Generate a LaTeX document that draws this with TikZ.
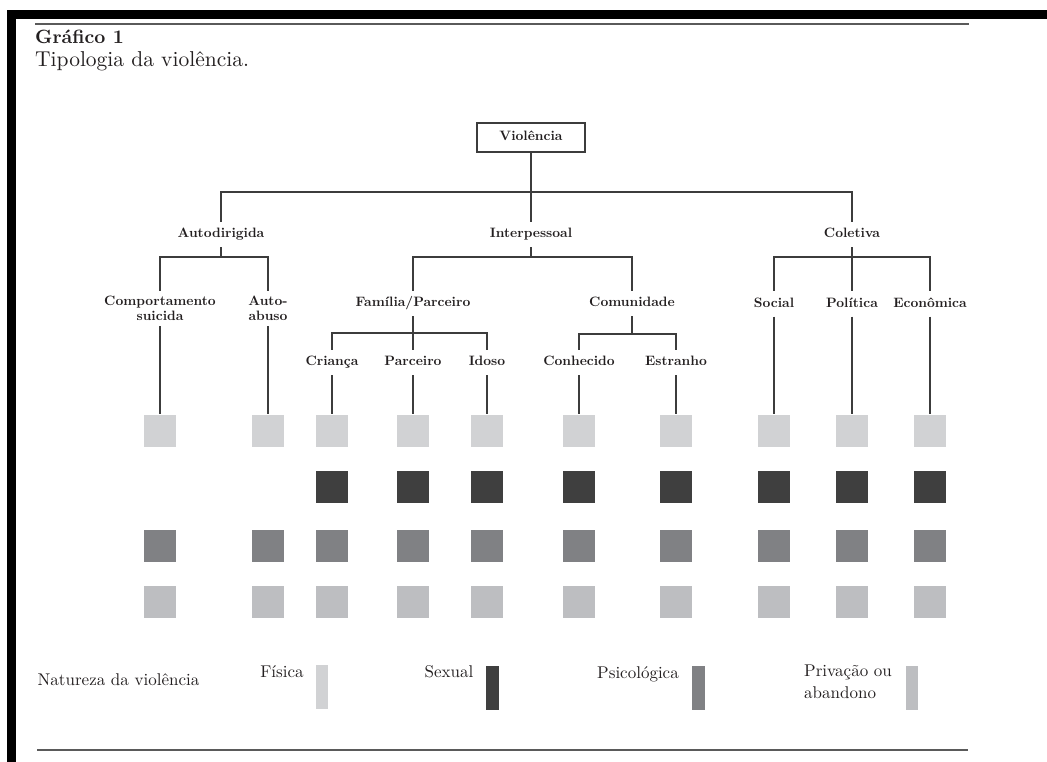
\documentclass[tikz,border=0pt]{standalone}
\usepackage{fontspec}
\setmainfont{lmroman10-regular.otf}[BoldFont=lmroman10-bold.otf]
\usepackage{tikz}
\definecolor{fisica}{HTML}{D1D2D4}
\definecolor{sexual}{HTML}{3F3F3F}
\definecolor{psico}{HTML}{808184}
\definecolor{privacao}{HTML}{BDBEC1}
\definecolor{linha}{HTML}{3C3C3C}
\definecolor{regua}{HTML}{5A5A5A}
\definecolor{texto}{HTML}{231F20}

\begin{document}
\begin{tikzpicture}[x=1pt,y=-1pt,
    tline/.style={linha, line width=1.6pt},
    tipo/.style={font=\fontsize{13.6}{15}\selectfont\bfseries, text=texto, inner sep=0pt,
      minimum height=25pt, text height=9.5pt, text depth=2.6pt},
    tipoduplo/.style={font=\fontsize{13.6}{14.5}\selectfont\bfseries, text=texto, inner sep=0pt,
      minimum height=35pt, align=center},
    quad/.style={inner sep=0pt, minimum size=32pt},
    legbar/.style={inner sep=0pt, minimum width=12.5pt, minimum height=44pt},
    legtxt/.style={font=\fontsize{17}{22}\selectfont, text=texto, inner sep=0pt}]
  \useasboundingbox (0,0) rectangle (1047,762);
  % page frame and rules
  \fill[black] (7,10) rectangle (1047,19);
  \fill[black] (7,10) rectangle (16,762);
  \draw[regua, line width=2pt] (35,24) -- (969,24);
  \draw[regua, line width=2pt] (37,750) -- (968,750);
  \node[anchor=base west, inner sep=0pt, text=texto, font=\fontsize{19.2}{20}\selectfont\bfseries] (titulo) at (35,44) {Gráfico 1};
  \node[anchor=base west, inner sep=0pt, text=texto, font=\fontsize{21.5}{22}\selectfont] (subtitulo) at (35,67) {Tipologia da violência.};

  % tree
  \node[tipo, draw=linha, line width=1.6pt, minimum width=108pt, minimum height=29pt] (viol) at (531,137.5) {Violência};
  \node[tipo] (auto) at (221,234.5) {Autodirigida};
  \node[tipo] (inter) at (531,234.5) {Interpessoal};
  \node[tipo] (colet) at (852,234.5) {Coletiva};
  \node[tipoduplo] (comp) at (160,308.5) {Comportamento\\suicida};
  \node[tipoduplo] (abuso) at (268,308.5) {Auto-\\abuso};
  \node[tipo] (fam) at (413,303.5) {Família/Parceiro};
  \node[tipo] (comu) at (632,303.5) {Comunidade};
  \node[tipo] (cri) at (332,362.5) {Criança};
  \node[tipo] (parc) at (413,362.5) {Parceiro};
  \node[tipo] (idoso) at (487,362.5) {Idoso};
  \node[tipo] (conh) at (579,362.5) {Conhecido};
  \node[tipo] (estr) at (676,362.5) {Estranho};
  \node[tipo] (social) at (774,304) {Social};
  \node[tipo] (polit) at (852,304) {Política};
  \node[tipo] (econ) at (930,304) {Econômica};

  \draw[tline] (viol.south) -- ++(0,39) -| (auto.north);
  \draw[tline] (viol.south) -- ++(0,39) -| (colet.north);
  \draw[tline] (viol.south) -- (inter.north);
  \draw[tline] (auto.south) -- ++(0,10) -| (comp.north);
  \draw[tline] (auto.south) -- ++(0,10) -| (abuso.north);
  \draw[tline] (inter.south) -- ++(0,10) -| (fam.north);
  \draw[tline] (inter.south) -- ++(0,10) -| (comu.north);
  \draw[tline] (colet.south) -- ++(0,10) -| (social.north);
  \draw[tline] (colet.south) -- ++(0,10) -| (econ.north);
  \draw[tline] (colet.south) -- (polit.north);
  \draw[tline] (fam.south) -- ++(0,17) -| (cri.north);
  \draw[tline] (fam.south) -- ++(0,17) -| (idoso.north);
  \draw[tline] (fam.south) -- (parc.north);
  \draw[tline] (comu.south) -- ++(0,18) -| (conh.north);
  \draw[tline] (comu.south) -- ++(0,18) -| (estr.north);

  % nature of violence, one column per type
  \node[quad, fill=fisica] (comp-f) at (160,430.5) {};
  \node[quad, fill=psico] (comp-p) at (160,545.5) {};
  \node[quad, fill=privacao] (comp-a) at (160,601.5) {};
  \node[quad, fill=fisica] (abuso-f) at (268,430.5) {};
  \node[quad, fill=psico] (abuso-p) at (268,545.5) {};
  \node[quad, fill=privacao] (abuso-a) at (268,601.5) {};
  \node[quad, fill=fisica] (cri-f) at (332,430.5) {};
  \node[quad, fill=sexual] (cri-s) at (332,486.5) {};
  \node[quad, fill=psico] (cri-p) at (332,545.5) {};
  \node[quad, fill=privacao] (cri-a) at (332,601.5) {};
  \node[quad, fill=fisica] (parc-f) at (413,430.5) {};
  \node[quad, fill=sexual] (parc-s) at (413,486.5) {};
  \node[quad, fill=psico] (parc-p) at (413,545.5) {};
  \node[quad, fill=privacao] (parc-a) at (413,601.5) {};
  \node[quad, fill=fisica] (idoso-f) at (487,430.5) {};
  \node[quad, fill=sexual] (idoso-s) at (487,486.5) {};
  \node[quad, fill=psico] (idoso-p) at (487,545.5) {};
  \node[quad, fill=privacao] (idoso-a) at (487,601.5) {};
  \node[quad, fill=fisica] (conh-f) at (579,430.5) {};
  \node[quad, fill=sexual] (conh-s) at (579,486.5) {};
  \node[quad, fill=psico] (conh-p) at (579,545.5) {};
  \node[quad, fill=privacao] (conh-a) at (579,601.5) {};
  \node[quad, fill=fisica] (estr-f) at (676,430.5) {};
  \node[quad, fill=sexual] (estr-s) at (676,486.5) {};
  \node[quad, fill=psico] (estr-p) at (676,545.5) {};
  \node[quad, fill=privacao] (estr-a) at (676,601.5) {};
  \node[quad, fill=fisica] (social-f) at (774,430.5) {};
  \node[quad, fill=sexual] (social-s) at (774,486.5) {};
  \node[quad, fill=psico] (social-p) at (774,545.5) {};
  \node[quad, fill=privacao] (social-a) at (774,601.5) {};
  \node[quad, fill=fisica] (polit-f) at (852,430.5) {};
  \node[quad, fill=sexual] (polit-s) at (852,486.5) {};
  \node[quad, fill=psico] (polit-p) at (852,545.5) {};
  \node[quad, fill=privacao] (polit-a) at (852,601.5) {};
  \node[quad, fill=fisica] (econ-f) at (930,430.5) {};
  \node[quad, fill=sexual] (econ-s) at (930,486.5) {};
  \node[quad, fill=psico] (econ-p) at (930,545.5) {};
  \node[quad, fill=privacao] (econ-a) at (930,601.5) {};

  \draw[tline] (comp.south) -- (comp-f.north);
  \draw[tline] (abuso.south) -- (abuso-f.north);
  \draw[tline] (cri.south) -- (cri-f.north);
  \draw[tline] (parc.south) -- (parc-f.north);
  \draw[tline] (idoso.south) -- (idoso-f.north);
  \draw[tline] (conh.south) -- (conh-f.north);
  \draw[tline] (estr.south) -- (estr-f.north);
  \draw[tline] (social.south) -- (social-f.north);
  \draw[tline] (polit.south) -- (polit-f.north);
  \draw[tline] (econ.south) -- (econ-f.north);

  % legend
  \node[legtxt, anchor=base] (natureza) at (118.5,685) {Natureza da violência};
  \node[legtxt, anchor=base] (lfis) at (282,677) {Física};
  \node[legbar, fill=fisica] (bfis) at (322,686.5) {};
  \node[legtxt, anchor=base] (lsex) at (449,677) {Sexual};
  \node[legbar, fill=sexual] (bsex) at (492.5,687.5) {};
  \node[legtxt, anchor=base] (lpsi) at (638,678) {Psicológica};
  \node[legbar, fill=psico] (bpsi) at (698.5,687.5) {};
  \node[legtxt, anchor=west, align=left] (lpri) at (804,682) {Privação ou\\abandono};
  \node[legbar, fill=privacao] (bpri) at (912,687.5) {};
\end{tikzpicture}
\end{document}
